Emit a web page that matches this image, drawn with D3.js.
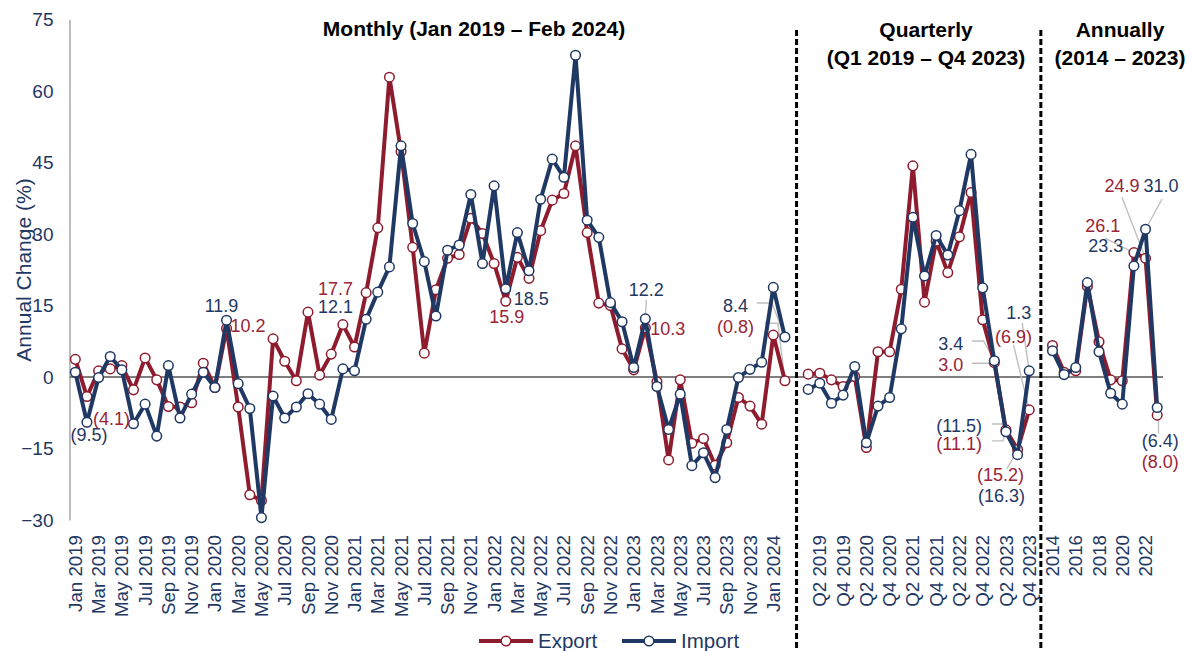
<!DOCTYPE html>
<html><head><meta charset="utf-8">
<script src="https://cdn.jsdelivr.net/npm/d3@7/dist/d3.min.js"></script>
<style>
body{margin:0;background:#fff}
svg{display:block}
text{font-family:"Liberation Sans",Arial,Helvetica,sans-serif}
</style>
</head><body>
<svg id="chart" width="1192" height="651"></svg>
<script>
// ---------- DATA ----------
const monthLabels = ["Jan 2019","Feb 2019","Mar 2019","Apr 2019","May 2019","Jun 2019","Jul 2019","Aug 2019","Sep 2019","Oct 2019","Nov 2019","Dec 2019",
"Jan 2020","Feb 2020","Mar 2020","Apr 2020","May 2020","Jun 2020","Jul 2020","Aug 2020","Sep 2020","Oct 2020","Nov 2020","Dec 2020",
"Jan 2021","Feb 2021","Mar 2021","Apr 2021","May 2021","Jun 2021","Jul 2021","Aug 2021","Sep 2021","Oct 2021","Nov 2021","Dec 2021",
"Jan 2022","Feb 2022","Mar 2022","Apr 2022","May 2022","Jun 2022","Jul 2022","Aug 2022","Sep 2022","Oct 2022","Nov 2022","Dec 2022",
"Jan 2023","Feb 2023","Mar 2023","Apr 2023","May 2023","Jun 2023","Jul 2023","Aug 2023","Sep 2023","Oct 2023","Nov 2023","Dec 2023",
"Jan 2024","Feb 2024"];
const quarterLabels = ["Q1 2019","Q2 2019","Q3 2019","Q4 2019","Q1 2020","Q2 2020","Q3 2020","Q4 2020","Q1 2021","Q2 2021","Q3 2021","Q4 2021",
"Q1 2022","Q2 2022","Q3 2022","Q4 2022","Q1 2023","Q2 2023","Q3 2023","Q4 2023"];
const yearLabels = ["2014","2015","2016","2017","2018","2019","2020","2021","2022","2023"];

const exportMonthly = [3.7,-4.1,1.3,1.7,2.4,-2.7,4.0,-0.6,-6.2,-6.3,-5.4,2.9,
-2.2,10.2,-6.3,-24.7,-25.9,8.0,3.3,-0.8,13.6,0.4,4.8,11.0,
6.3,17.7,31.3,62.9,47.3,27.2,5.0,18.3,24.9,25.7,33.3,30.1,
23.8,15.9,25.1,20.7,30.7,37.1,38.5,48.5,30.3,15.5,15.0,5.9,
1.5,10.3,-1.0,-17.4,-0.6,-13.9,-12.9,-18.5,-13.8,-4.3,-6.1,-9.9,
8.8,-0.8];
const importMonthly = [1.0,-9.5,-0.1,4.3,1.5,-9.8,-5.7,-12.4,2.4,-8.6,-3.6,1.0,
-2.2,11.9,-1.4,-6.6,-29.5,-4.0,-8.6,-6.3,-3.5,-5.7,-8.9,1.7,
1.3,12.1,17.8,23.1,48.5,32.2,24.2,12.8,26.6,27.7,38.3,23.8,
40.1,18.5,30.3,22.3,37.3,45.7,41.9,67.5,32.9,29.3,15.6,11.6,
2.0,12.2,-2.0,-11.0,-3.6,-18.6,-15.9,-21.1,-11.0,-0.1,1.6,3.1,
18.8,8.4];
const exportQuarterly = [0.6,0.8,-0.6,-2.0,0.1,-14.8,5.3,5.3,18.4,44.3,15.7,28.5,21.9,29.4,38.7,12.0,3.0,-11.1,-15.2,-6.9];
const importQuarterly = [-2.6,-1.3,-5.5,-3.8,2.2,-13.8,-6.1,-4.3,10.1,33.5,21.2,29.7,25.6,34.9,46.7,18.7,3.4,-11.5,-16.3,1.3];
const exportAnnual = [6.6,1.0,1.3,19.0,7.4,-0.6,-0.8,26.1,24.9,-8.0];
const importAnnual = [5.5,0.5,2.0,19.8,5.3,-3.4,-5.7,23.3,31.0,-6.4];

const yTicks = [-30,-15,0,15,30,45,60,75];
const seriesNames = ["Export","Import"];
const sectionTitles = [["Monthly (Jan 2019 \u2013 Feb 2024)"],["Quarterly","(Q1 2019 \u2013 Q4 2023)"],["Annually","(2014 \u2013 2023)"]];

// ---------- STYLE ----------
const RED = "#8E1C2E", NAVY = "#1F3864", RED_TXT = "#9A2438", GRAY = "#BFBFBF";

// ---------- CATEGORIES (one axis with a blank slot between sections) ----------
const categories = [...monthLabels, "", ...quarterLabels, "", ...yearLabels];
const offM = 0, offQ = monthLabels.length + 1, offA = offQ + quarterLabels.length + 1;
const gapIdx = [monthLabels.length, offQ + quarterLabels.length];

const svg = d3.select("#chart");
const x = d3.scaleBand().domain(d3.range(categories.length)).range([69.5, 1163]).padding(0);
const cx = i => x(i) + x.bandwidth()/2;
const y = d3.scaleLinear().domain([-30, 75]).range([520, 19.5]);

// Y axis
const yAxis = svg.append("g").attr("transform","translate(69.5,0)")
  .call(d3.axisLeft(y).tickValues(yTicks).tickSize(0).tickSizeOuter(0).tickPadding(16).tickFormat(d3.format("d")));
yAxis.select(".domain").attr("stroke","#A6A6A6").attr("stroke-width",1.5);
yAxis.selectAll("text").attr("fill",NAVY).style("font-size","19px");

// Y title
svg.append("text").attr("transform","translate(31,270) rotate(-90)")
  .attr("text-anchor","middle").attr("fill",NAVY).style("font-size","21px").text("Annual Change (%)");

// X axis (labels at bottom, every second category)
const tickIdx = d3.range(0, categories.length, 2).filter(i => categories[i] !== "");
const xAxis = svg.append("g").attr("transform","translate(0,520)")
  .call(d3.axisBottom(x).tickValues(tickIdx).tickFormat(i => categories[i]).tickSize(0));
xAxis.select(".domain").remove();
xAxis.selectAll("text")
  .attr("x",0).attr("y",0).attr("dx",0).attr("dy","0.35em")
  .attr("transform","translate(0,15) rotate(-90)")
  .attr("text-anchor","end").attr("fill",NAVY).style("font-size","18.7px");

// zero line
svg.append("line").attr("x1",69.5).attr("x2",1163).attr("y1",y(0)).attr("y2",y(0))
  .attr("stroke","#7F7F7F").attr("stroke-width",2);

// section separators
svg.selectAll("line.sep").data(gapIdx).join("line").attr("class","sep")
  .attr("x1",d=>cx(d)).attr("x2",d=>cx(d)).attr("y1",30).attr("y2",651)
  .attr("stroke","#000").attr("stroke-width",3).attr("stroke-dasharray","6,3");

// section titles
const titlePos = [[474,[36]],[926,[36.5,65]],[1120,[36.5,65]]];
sectionTitles.forEach((lines,k)=>{
  lines.forEach((t,j)=>{
    svg.append("text").attr("x",titlePos[k][0]).attr("y",titlePos[k][1][j])
      .attr("text-anchor","middle").attr("font-weight","bold").attr("fill","#000")
      .style("font-size","21px").text(t);
  });
});

// ---------- SERIES ----------
const sections = [
  {off: offM, exp: exportMonthly, imp: importMonthly},
  {off: offQ, exp: exportQuarterly, imp: importQuarterly},
  {off: offA, exp: exportAnnual, imp: importAnnual}
];
const pt = (sec, s, i) => { const S = sections[sec]; const v = (s===0?S.exp:S.imp)[i]; return [cx(S.off+i), y(v)]; };

// Data labels: [series, section, index, text, dx, dy, anchor, leader offsets]
const labels = [
  [1,0,1,"(9.5)",2,19,"middle"],
  [0,0,1,"(4.1)",6,28.5,"start"],
  [1,0,13,"11.9",-5,-8.6,"middle"],
  [0,0,13,"10.2",4,3.3,"start"],
  [0,0,25,"17.7",-13,2.4,"end"],
  [1,0,25,"12.1",-13,-6,"end"],
  [1,0,37,"18.5",8,16,"start"],
  [0,0,37,"15.9",1,22,"middle"],
  [1,0,49,"12.2",1,-23,"middle",[[1,-19],[0,0]]],
  [0,0,49,"10.3",5,7,"start"],
  [1,0,61,"8.4",-37,-25,"end",[[-28,-34],[-13,-34],[0,0]]],
  [0,0,61,"(0.8)",-31,-48,"end",[[-20,-57.5],[-7,-57.5],[0,0]]],
  [1,1,16,"3.4",-31,-11,"end",[[-22.4,-19.8],[-10.8,-19.8],[0,0]]],
  [0,1,16,"3.0",-31,8,"end",[[-22.4,0.6],[-5.8,0.6],[0,0]]],
  [1,1,17,"(11.5)",-24,0.5,"end",[[-14,-7.8],[-3,-7.8],[0,0]]],
  [0,1,17,"(11.1)",-24,20.5,"end",[[-14,11],[-3,11],[0,0]]],
  [0,1,18,"(15.2)",-17,32,"middle",[[-10.7,19.8],[0,0]]],
  [1,1,18,"(16.3)",-16,47,"middle"],
  [1,1,19,"1.3",2,-51.5,"end",[[-7,-48],[0,0]]],
  [0,1,19,"(6.9)",2.7,-67,"end",[[-15.7,-65],[0,0]]],
  [1,2,9,"(6.4)",3,39,"middle",[[1.3,26],[1.3,6]]],
  [0,2,9,"(8.0)",3,53,"middle"],
  [0,2,7,"26.1",-13.7,-21,"end",[[-28.7,-14.3],[0,0]]],
  [1,2,7,"23.3",-10.7,-14.3,"end"],
  [0,2,8,"24.9",-6,-66.6,"end",[[-23.6,-61],[0,0]]],
  [1,2,8,"31.0",-2,-37.5,"start",[[16.4,-30],[0,0]]]
];

// leaders under the series
labels.filter(l=>l[7]).forEach(l=>{
  const [px,py] = pt(l[1], l[0], l[2]);
  svg.append("path").attr("d", d3.line()(l[7].map(o=>[px+o[0], py+o[1]])))
    .attr("fill","none").attr("stroke",GRAY).attr("stroke-width",1.4);
});

const line = d3.line().x(d=>d[0]).y(d=>d[1]);
[0,1].forEach(s=>{
  const col = s===0?RED:NAVY;
  sections.forEach((S,k)=>{
    const vals = s===0?S.exp:S.imp;
    const pts = vals.map((v,i)=>[cx(S.off+i), y(v)]);
    svg.append("path").attr("d", line(pts)).attr("fill","none")
      .attr("stroke",col).attr("stroke-width",4).attr("stroke-linejoin","round");
    svg.append("g").selectAll("circle").data(pts).join("circle")
      .attr("cx",d=>d[0]).attr("cy",d=>d[1]).attr("r",4.8)
      .attr("fill","#fff").attr("stroke",col).attr("stroke-width",1.5);
  });
});

// label texts
labels.forEach(l=>{
  const [px,py] = pt(l[1], l[0], l[2]);
  svg.append("text").attr("x",px+l[4]).attr("y",py+l[5]).attr("text-anchor",l[6])
    .attr("fill", l[0]===0?RED_TXT:NAVY).style("font-size","18px").text(l[3]);
});

// ---------- LEGEND ----------
const legend = svg.append("g").attr("transform","translate(479,641)");
const legX = [0, 143];
seriesNames.forEach((n,k)=>{
  const col = k===0?RED:NAVY;
  const g = legend.append("g").attr("transform",`translate(${legX[k]},0)`);
  g.append("line").attr("x1",0).attr("x2",54).attr("stroke",col).attr("stroke-width",4);
  g.append("circle").attr("cx",27).attr("r",4.8).attr("fill","#fff").attr("stroke",col).attr("stroke-width",1.5);
  g.append("text").attr("x",59).attr("dy","0.35em").attr("fill",NAVY).style("font-size","20.5px").text(n);
});
</script>
</body></html>
